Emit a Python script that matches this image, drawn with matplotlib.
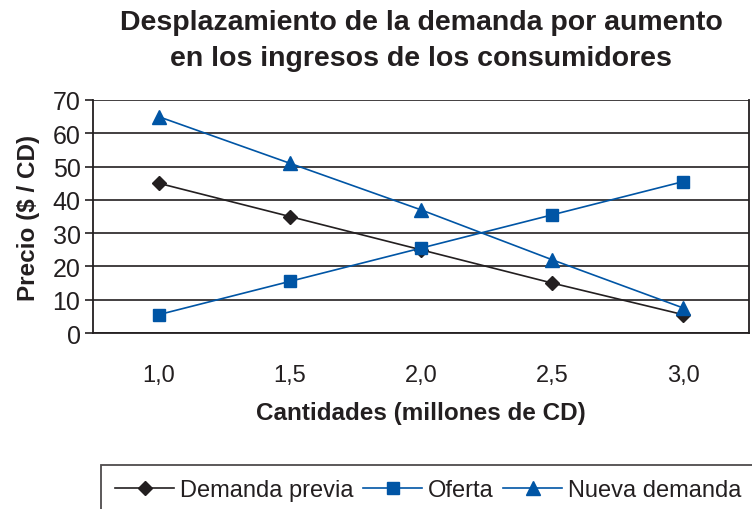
import matplotlib
matplotlib.use("Agg")
import matplotlib.pyplot as plt

plt.rcParams['font.family'] = ['Liberation Sans', 'DejaVu Sans']

categories = ["1,0", "1,5", "2,0", "2,5", "3,0"]
demanda_previa = [45, 35, 25, 15, 5.5]
oferta = [5.5, 15.5, 25.5, 35.5, 45.5]
nueva_demanda = [65, 51, 37, 22, 7.5]
yticks = [0, 10, 20, 30, 40, 50, 60, 70]

BLACK = "#231F20"
BLUE = "#0055A5"

fig = plt.figure(figsize=(7.52, 5.10), dpi=100)
ax = fig.add_axes([93/752, 1-334/510, (749-93)/752, (334-101)/510])

x = list(range(len(categories)))
ax.plot(x, demanda_previa, color=BLACK, lw=1.2, marker='D', ms=7, label="Demanda previa")
ax.plot(x, oferta, color=BLUE, lw=1.2, marker='s', ms=9, label="Oferta")
ax.plot(x, nueva_demanda, color=BLUE, lw=1.2, marker='^', ms=10, label="Nueva demanda")

ax.set_xlim(-0.5, len(categories) - 0.5)
ax.set_ylim(0, 70)
ax.set_yticks(yticks)
ax.set_xticks(x)
ax.set_xticklabels(categories)
ax.tick_params(axis='x', length=0, pad=22, labelsize=17, colors=BLACK)
ax.tick_params(axis='y', length=6, width=1.2, pad=3, labelsize=18, colors=BLACK)
ax.yaxis.grid(True, color=BLACK, lw=1.2)
ax.set_axisbelow(True)
for s in ['left', 'bottom', 'right']:
    ax.spines[s].set_color(BLACK)
    ax.spines[s].set_linewidth(1.3)
ax.spines['top'].set_visible(False)

ax.set_xlabel("Cantidades (millones de CD)", fontsize=17.5, fontweight='bold', labelpad=11, color=BLACK)
ax.set_ylabel("Precio ($ / CD)", fontsize=17.5, fontweight='bold', labelpad=9, color=BLACK)
fig.text(421/752, 1-41/510,
         "Desplazamiento de la demanda por aumento\nen los ingresos de los consumidores",
         fontsize=20.5, fontweight='bold', color=BLACK, ha='center', va='center', linespacing=1.55)

leg = fig.legend(loc='upper left', bbox_to_anchor=(101/752, 1-466/510), ncol=3,
                 frameon=True, fancybox=False, fontsize=17, handlelength=2.5,
                 columnspacing=0.4, handletextpad=0.25, borderpad=0.6, borderaxespad=0)
leg.get_frame().set_edgecolor(BLACK)
leg.get_frame().set_linewidth(1.3)
for t in leg.get_texts():
    t.set_color(BLACK)

fig.savefig("out.png", dpi=100)
